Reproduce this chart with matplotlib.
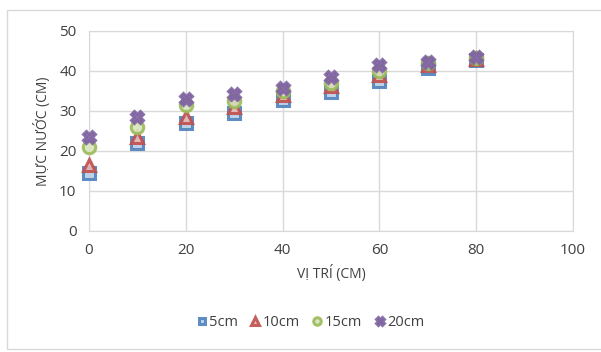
import matplotlib
matplotlib.use("Agg")
import matplotlib.pyplot as plt
from matplotlib.patches import Rectangle

plt.rcParams['font.family'] = ['Open Sans', 'DejaVu Sans']

positions = [0, 10, 20, 30, 40, 50, 60, 70, 80]
s5 = [14.5, 22, 27, 29.5, 32.7, 34.7, 37.5, 40.8, 42.7]
s10 = [16.5, 23.5, 28.5, 31, 34, 36.3, 39, 41.5, 43]
s15 = [21, 26, 31.5, 32.5, 35, 37, 40, 42, 43.3]
s20 = [23.5, 28.5, 33, 34.3, 35.7, 38.5, 41.5, 42.3, 43.5]
labels = ['5cm', '10cm', '15cm', '20cm']

W, H = 601, 352
fig = plt.figure(figsize=(W / 100, H / 100), dpi=100)
fig.patch.set_facecolor('white')
fig.patches.append(Rectangle((7 / W, 1 - 349 / H), 1.2, (349 - 10) / H,
                             transform=fig.transFigure, fill=False,
                             edgecolor='#D9D9D9', linewidth=1.0))

ax = fig.add_axes([89 / W, 1 - 231 / H, (573 - 89) / W, 200 / H])
styles = [
    dict(marker='s', color='#4F81BD', light='#B9CDE5', ms=8),
    dict(marker='^', color='#C0504D', light='#E6B9B8', ms=9),
    dict(marker='o', color='#9BBB59', light='#D7E4BD', ms=9),
    dict(marker='X', color='#8064A2', light='#8064A2', ms=9),
]
for ys, lab, st in zip([s5, s10, s15, s20], labels, styles):
    ax.plot(positions, ys, linestyle='none', marker=st['marker'],
            markersize=st['ms'], markerfacecolor=st['light'],
            markeredgecolor=st['color'], markeredgewidth=2.2,
            alpha=0.9, label=lab, clip_on=False, zorder=3)

ax.set_xlim(0, 100)
ax.set_ylim(0, 50)
ax.set_xticks(range(0, 101, 20))
ax.set_yticks(range(0, 51, 10))
ax.grid(True, color='#D9D9D9', linewidth=1)
ax.set_axisbelow(True)
for sp in ax.spines.values():
    sp.set_color('#D9D9D9')
ax.tick_params(length=0, labelsize=11, colors='#404040', pad=9)
ax.set_xlabel('VỊ TRÍ (CM)', fontsize=10, color='#404040', labelpad=5)
ax.set_ylabel('MỰC NƯỚC (CM)', fontsize=10, color='#404040', labelpad=6)

leg = fig.legend(loc='center', bbox_to_anchor=(310 / W, 1 - 323 / H), ncol=4,
                 frameon=False, fontsize=10.5, handletextpad=0.1,
                 columnspacing=0.8, handlelength=0.8, markerscale=0.6)
for t in leg.get_texts():
    t.set_color('#404040')

fig.savefig('out.png', dpi=100, facecolor='white')
